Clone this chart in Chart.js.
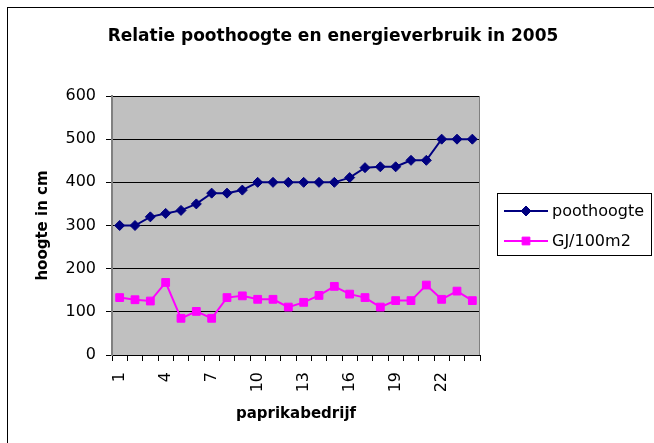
<!DOCTYPE html>
<html><head><meta charset="utf-8">
<script src="https://cdn.jsdelivr.net/npm/chart.js@4.4.1/dist/chart.umd.min.js"></script>
<style>html,body{margin:0;padding:0;background:#fff}#wrap{width:654px;height:443px;position:relative}</style>
</head><body><div id="wrap"><canvas id="c" width="654" height="443"></canvas></div>
<script>
const categories = ['1','2','3','4','5','6','7','8','9','10','11','12','13','14','15','16','17','18','19','20','21','22','23','24'];
const poothoogte = [300,300,320,328,335,350,375,375,382,400,400,400,400,400,400,411,434,436,436,451,451,500,500,500];
const energie = [133,128,125,168,85,101,85,133,137,129,129,111,122,138,159,141,133,111,126,126,162,129,148,126];
const yTickValues = [0,100,200,300,400,500,600];
const seriesNames = ['poothoogte','GJ/100m2'];
const chartTitle = 'Relatie poothoogte en energieverbruik in 2005';
const xTitle = 'paprikabedrijf';
const yTitle = 'hoogte in cm';

const FONT = 'DejaVu Sans';
const NAVY = '#000080', MAGENTA = '#FF00FF';

function drawMarker(ctx, style, x, y, r, color) {
  ctx.save();
  ctx.fillStyle = color; ctx.strokeStyle = color; ctx.lineWidth = 1;
  ctx.beginPath();
  if (style === 'rectRot') {
    ctx.moveTo(x, y - r); ctx.lineTo(x + r, y); ctx.lineTo(x, y + r); ctx.lineTo(x - r, y);
  } else {
    const h = r * Math.SQRT1_2;
    ctx.rect(x - h, y - h, 2 * h, 2 * h);
  }
  ctx.closePath(); ctx.fill(); ctx.stroke();
  ctx.restore();
}

const decor = {
  id: 'decor',
  beforeDraw(chart) {
    const {ctx, chartArea: a} = chart;
    ctx.save();
    ctx.fillStyle = '#fff';
    ctx.fillRect(0, 0, chart.width, chart.height);
    ctx.fillStyle = '#C0C0C0';
    ctx.fillRect(a.left, a.top, a.right - a.left, a.bottom - a.top);
    ctx.restore();
  },
  beforeDatasetsDraw(chart) {
    const {ctx, chartArea: a} = chart;
    ctx.save();
    ctx.strokeStyle = '#808080'; ctx.lineWidth = 1;
    ctx.beginPath();
    ctx.moveTo(a.right - 0.5, a.top); ctx.lineTo(a.right - 0.5, a.bottom);
    ctx.stroke();
    ctx.restore();
  },
  afterDraw(chart) {
    const ctx = chart.ctx;
    ctx.save();
    ctx.strokeStyle = '#000'; ctx.lineWidth = 1;
    ctx.strokeRect(7.5, 7.5, 700, 500);
    ctx.fillStyle = '#000';
    ctx.font = 'bold 17px "' + FONT + '"';
    ctx.textAlign = 'center'; ctx.textBaseline = 'middle';
    ctx.fillText(chartTitle, 333, 37);
    ctx.strokeStyle = '#000';
    ctx.strokeRect(497.5, 193.5, 154, 62);
    const rows = [211, 241];
    chart.data.datasets.forEach((ds, i) => {
      const y = rows[i];
      ctx.strokeStyle = ds.borderColor; ctx.lineWidth = 2;
      ctx.beginPath(); ctx.moveTo(504, y); ctx.lineTo(548, y); ctx.stroke();
      drawMarker(ctx, ds.pointStyle, 526, y, ds.pointRadius, ds.backgroundColor);
      ctx.fillStyle = '#000';
      ctx.font = '16px "' + FONT + '"';
      ctx.textAlign = 'left'; ctx.textBaseline = 'middle';
      ctx.fillText(ds.label, 552, y + 1);
    });
    ctx.restore();
  }
};

new Chart(document.getElementById('c'), {
  type: 'line',
  data: {
    labels: categories,
    datasets: [
      {label: seriesNames[0], data: poothoogte, borderColor: NAVY, backgroundColor: NAVY, borderWidth: 2,
       pointStyle: 'rectRot', pointRadius: 5, pointBorderWidth: 1, tension: 0},
      {label: seriesNames[1], data: energie, borderColor: MAGENTA, backgroundColor: MAGENTA, borderWidth: 2,
       pointStyle: 'rect', pointRadius: 5.5, pointBorderWidth: 1, tension: 0}
    ]
  },
  options: {
    responsive: false, animation: false, devicePixelRatio: 1,
    layout: {padding: {left: 0, top: 96, right: 174, bottom: 0}},
    plugins: {legend: {display: false}, title: {display: false}, tooltip: {enabled: false}},
    scales: {
      x: {
        type: 'category', offset: true,
        afterFit(s) { s.height = 88; },
        grid: {offset: true, drawOnChartArea: false, drawTicks: true, tickLength: 6, color: '#000', lineWidth: 1},
        border: {color: '#000', width: 1},
        ticks: {autoSkip: false, minRotation: 90, maxRotation: 90, padding: 11, color: '#000',
                font: {family: FONT, size: 16},
                callback: (v, i) => (i % 3 === 0 ? categories[i] : '')},
        title: {display: true, text: xTitle, color: '#000', font: {family: FONT, size: 15, weight: 'bold'}, padding: {top: 0, bottom: 20}}
      },
      y: {
        min: 0, max: 600,
        afterFit(s) { s.width = 112; },
        afterBuildTicks(s) { s.ticks = yTickValues.map(v => ({value: v})); },
        grid: {color: '#000', lineWidth: 1, tickLength: 6},
        border: {color: '#808080', width: 2},
        ticks: {color: '#000', padding: 10, font: {family: FONT, size: 16}},
        title: {display: true, text: yTitle, color: '#000', font: {family: FONT, size: 15, weight: 'bold'}, padding: {top: 34, bottom: 0}}
      }
    }
  },
  plugins: [decor]
});
</script>
</body></html>
